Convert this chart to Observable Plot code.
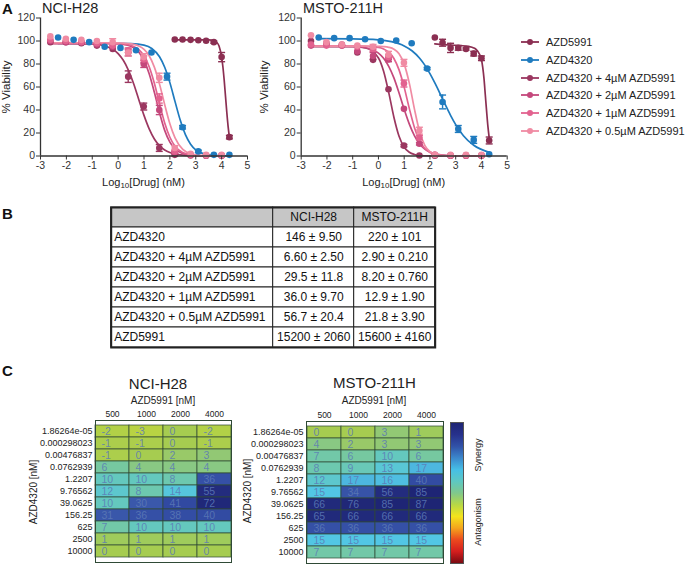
<!DOCTYPE html>
<html><head><meta charset="utf-8">
<script src="https://cdn.jsdelivr.net/npm/d3@7"></script>
<script src="https://cdn.jsdelivr.net/npm/@observablehq/plot@0.6"></script>
<style>
body{margin:0;background:#fff;}
#root{position:relative;width:685px;height:565px;overflow:hidden;font-family:"Liberation Sans",Arial,Helvetica,sans-serif;color:#222;}
.abs{position:absolute;line-height:1;white-space:nowrap;}
</style></head><body><div id="root"></div>
<script>
// ---------------- DATA ----------------
const seriesNames = ["AZD5991","AZD4320","AZD4320 + 4µM AZD5991","AZD4320 + 2µM AZD5991","AZD4320 + 1µM AZD5991","AZD4320 + 0.5µM AZD5991"];
const xTicks = [-3,-2,-1,0,1,2,3,4,5];
const yTicks = [0,20,40,60,80,100,120];

// log10 doses (nM)
const logDoseAZD5991 = [2.19, 2.49, 2.80, 3.10, 3.40, 3.70, 4.00, 4.30];
const logDoseAZD4320 = [-2.32, -1.72, -1.12, -0.52, 0.09, 0.69, 1.29, 1.89, 2.49, 3.10, 3.70, 4.30];
const logDoseCombo   = [-2.62, -2.02, -1.42, -0.82, -0.21, 0.39, 0.99, 1.59, 2.19, 2.80, 3.40, 4.00];

// NCI-H28 % viability (mean, sem)
const h28_AZD5991 = [101.3, 101.3, 101, 100.7, 100.2, 99, 86, 16.4];
const h28_AZD5991_sem = [0, 0, 0, 0, 0, 1, 4, 1.5];
const h28_AZD4320 = [103, 101, 99, 95, 94, 92, 90, 69, 25, 4, 1, 1];
const h28_AZD4320_sem = [0, 0, 0, 0, 0, 0, 0, 3, 1.5, 1, 0, 0];
const h28_combo4 = [99, 99, 98, 96, 93, 69, 43, 7, 1, 0.5, 0.3, 0.3];
const h28_combo4_sem = [0, 0, 0, 0, 0, 5, 3, 3, 1, 0, 0, 0];
const h28_combo2 = [100, 99, 99, 97, 95, 90, 80, 40, 3, 1, 0.5, 0.5];
const h28_combo2_sem = [0, 0, 0, 0, 0, 3, 3, 4, 1, 0, 0, 0];
const h28_combo1 = [101, 100, 99, 98, 96, 92, 84, 50, 4, 1, 0.5, 0.5];
const h28_combo1_sem = [0, 0, 0, 0, 0, 2, 3, 4, 1, 0, 0, 0];
const h28_combo05 = [104, 102, 101, 100, 99, 90, 86, 68, 7, 2, 1, 1];
const h28_combo05_sem = [0, 0, 0, 0, 3, 3, 3, 4, 2, 0, 0, 0];

// MSTO-211H % viability (mean, sem)
const msto_AZD5991 = [103, 98.5, 94, 94, 93, 89, 85, 13.5];
const msto_AZD5991_sem = [0, 3, 4, 2, 1, 2, 2, 3];
const msto_AZD4320 = [103, 102.5, 102.5, 101.5, 100, 100.5, 98, 76, 47, 23.5, 14, 1.5];
const msto_AZD4320_sem = [0, 0, 0, 0, 0, 0, 0, 1, 6, 3, 3, 0];
const msto_combo4 = [100, 98, 96, 90, 83.6, 58, 9, 0.5, 0.3, 0.3, 0.3, 0.3];
const msto_combo4_sem = [0, 0, 0, 0, 0, 0, 1, 0, 0, 0, 0, 0];
const msto_combo2 = [96, 97, 97, 91, 87, 84, 41, 10.6, 1, 0.5, 0.5, 0.5];
const msto_combo2_sem = [0, 0, 0, 0, 3, 2, 0, 1, 0, 0, 0, 0];
const msto_combo1 = [97, 96, 96, 95, 93, 86, 63, 16, 1, 0.5, 0.5, 0.5];
const msto_combo1_sem = [0, 0, 0, 0, 2, 2, 3, 2, 0, 0, 0, 0];
const msto_combo05 = [105, 99, 97, 96, 95, 88, 81, 22, 1, 1, 1, 1];
const msto_combo05_sem = [0, 0, 0, 0, 2, 3, 3, 3, 0, 0, 0, 0];

// fitted curves
const fitXAZD5991 = [2.19, 2.8, 3.2, 3.5, 3.7, 3.8, 3.9, 4.0, 4.05, 4.1, 4.15, 4.2, 4.25, 4.3];
const fitXAZD4320 = [-2.32, -1, 0, 0.5, 1.0, 1.3, 1.6, 1.8, 2.0, 2.2, 2.4, 2.6, 2.8, 3.0, 3.3, 3.7, 4.3];
const fitXCombo   = [-2.62, -1, -0.5, 0, 0.2, 0.4, 0.6, 0.8, 1.0, 1.2, 1.4, 1.6, 1.8, 2.0, 2.2, 2.5, 2.8, 3.2, 4.0];

const fit_h28_AZD5991 = [101, 101, 101, 100.9, 100.4, 99.2, 95.6, 86, 77.4, 65.7, 51.9, 38, 25.8, 16.5];
const fit_h28_AZD4320 = [98, 98, 97.9, 97.7, 96.4, 93.5, 86.3, 77.2, 63.8, 47.3, 31.2, 18.6, 10.3, 5.4, 2, 0.5, 0.1];
const fit_h28_combo4  = [98, 97.5, 95.7, 89, 83.2, 74.5, 62.8, 49, 35.3, 23.6, 14.8, 8.9, 5.2, 3.0, 1.7, 0.7, 0.3, 0.1, 0];
const fit_h28_combo2  = [98, 98, 97.9, 97.6, 97.1, 96.1, 94.1, 90.3, 83.2, 71.5, 55.4, 37.7, 22.3, 12.1, 6.2, 2.1, 0.7, 0.2, 0];
const fit_h28_combo1  = [98, 98, 98, 97.7, 97.4, 96.7, 95.2, 92.5, 87, 77.6, 63.2, 45.4, 28.7, 16.3, 8.5, 3, 1, 0.2, 0];
const fit_h28_combo05 = [98.5, 98.5, 98.5, 98.3, 98.2, 97.8, 97.1, 95.6, 92.7, 87.2, 77.3, 62.5, 44.7, 28.1, 15.8, 5.8, 2, 0.5, 0];

const fit_msto_AZD5991 = [97.5, 96.5, 96, 95.3, 94, 92.5, 89.5, 84, 77, 67, 53, 39, 26, 16];
const fit_msto_AZD4320 = [102, 101.8, 101, 99.4, 95.7, 91.5, 85, 79, 71.6, 63.1, 53.9, 44.4, 35.4, 27.3, 17.6, 9.3, 3.2];
const fit_msto_combo4  = [95, 95, 93.9, 85.2, 73.7, 55.1, 33.7, 17.1, 7.6, 3.2, 1.3, 0.5, 0.2, 0.1, 0, 0, 0, 0, 0];
const fit_msto_combo2  = [95.5, 95.2, 94.1, 89.4, 85, 78, 67.9, 54.8, 40.6, 27.7, 17.5, 10.5, 6, 3.4, 1.9, 0.8, 0.3, 0.1, 0];
const fit_msto_combo1  = [95.5, 95.5, 95.3, 94.4, 93.1, 90.3, 84.8, 74.9, 59.7, 41.2, 24.6, 13.1, 6.5, 3.1, 1.4, 0.45, 0.1, 0, 0];
const fit_msto_combo05 = [95.5, 95.5, 95.5, 95.3, 95.1, 94.5, 92.9, 88.9, 79.9, 63.2, 40.6, 21, 9.3, 3.7, 1.5, 0.35, 0.1, 0, 0];

// Table B: IC50 (nM)
const tableHeader = ["", "NCI-H28", "MSTO-211H"];
const tableRows = ["AZD4320","AZD4320 + 4µM AZD5991","AZD4320 + 2µM AZD5991","AZD4320 + 1µM AZD5991","AZD4320 + 0.5µM AZD5991","AZD5991"];
const ic50H28 = ["146 ± 9.50","6.60 ± 2.50","29.5 ± 11.8","36.0 ± 9.70","56.7 ± 20.4","15200 ± 2060"];
const ic50MSTO = ["220 ± 101","2.90 ± 0.210","8.20 ± 0.760","12.9 ± 1.90","21.8 ± 3.90","15600 ± 4160"];

// Panel C: synergy scores
const heatRowsAZD4320 = ["1.86264e-05","0.000298023","0.00476837","0.0762939","1.2207","9.76562","39.0625","156.25","625","2500","10000"];
const heatColsAZD5991 = ["500","1000","2000","4000"];
const synergyH28 = [
  [-2,-3,0,-2],[-1,-1,0,-1],[-1,0,2,3],[6,4,4,4],[10,10,8,36],[12,8,14,55],
  [10,30,41,72],[31,36,38,40],[7,10,10,10],[1,1,1,1],[0,0,0,0]];
const synergyMSTO = [
  [0,0,3,1],[4,2,3,3],[7,6,10,6],[8,9,13,17],[12,17,16,40],[15,34,56,85],
  [66,76,85,87],[65,66,66,66],[36,36,36,36],[15,15,15,15],[7,7,7,7]];

// ---------------- STYLE CONFIG ----------------
const seriesColors = ["#8b2f52","#1f7bbf","#9b3760","#c4487c","#e2628f","#f08ba3"];
const synergyStops  = [-100, -50, -30, -15, -5, 0, 3, 6, 10, 15, 22, 30, 42, 55, 100];
const synergyColors = ["#7b0a14","#e3221e","#f39a1c","#f6e41a","#c4d83a","#a6cc50","#92c874","#76c8a0","#64c8be","#52c6e4","#4090d2","#3a58ab","#3048a0","#232c7e","#1c2270"];
const colorbarColors = ["#1f2574","#27318c","#3152a8","#3c88cc","#46bfe6","#5ec8c2","#80c88c","#b6d846","#f4e41c","#f5a51c","#ec4a1e","#d41e1e","#7a0a12"];
const FONT = '"Liberation Sans", Arial, Helvetica, sans-serif';

// ---------------- HELPERS ----------------
const root = document.getElementById("root");
function place(el, left, top) {
  el.style.position = "absolute"; el.style.left = left + "px"; el.style.top = top + "px";
  el.style.overflow = "visible"; el.style.background = "transparent"; el.style.maxWidth = "none";
  root.appendChild(el);
}
function addText(html, x, y, {size = 11, bold = false, anchor = "middle", rotate = false, color = "#222"} = {}) {
  const d = document.createElement("div");
  d.className = "abs";
  d.style.left = x + "px"; d.style.top = y + "px"; d.style.fontSize = size + "px"; d.style.color = color;
  if (bold) d.style.fontWeight = "bold";
  const tx = anchor === "middle" ? "-50%" : anchor === "end" ? "-100%" : "0";
  d.style.transform = `translate(${tx},-50%)` + (rotate ? " rotate(-90deg)" : "");
  d.innerHTML = html;
  root.appendChild(d);
}
const capSymbol = {draw(ctx, size) { const r = Math.sqrt(size / Math.PI); ctx.moveTo(-r, 0); ctx.lineTo(r, 0); }};

function doseChart(series, {width, marginLeft, marginRight}) {
  const pts = [], fits = [];
  series.forEach(s => {
    s.dose.forEach((x, i) => pts.push({name: s.name, x, y: s.v[i], e: s.sem[i]}));
    s.fitX.forEach((x, i) => fits.push({name: s.name, x, y: s.fitY[i]}));
  });
  const bars = pts.filter(d => d.e > 0);
  return Plot.plot({
    width, height: 175, marginLeft, marginRight, marginTop: 17.5, marginBottom: 19.5,
    x: {domain: [xTicks[0], xTicks[xTicks.length - 1]]},
    y: {domain: [yTicks[0], yTicks[yTicks.length - 1]]},
    color: {domain: seriesNames, range: seriesColors},
    style: {fontFamily: FONT, fontSize: "10.5px", color: "#333", background: "transparent", overflow: "visible"},
    marks: [
      Plot.line(fits, {x: "x", y: "y", z: "name", stroke: "name", strokeWidth: 1.7, curve: "monotone-x"}),
      Plot.ruleX(bars, {x: "x", y1: d => d.y - d.e, y2: d => d.y + d.e, stroke: "name", strokeWidth: 1.4}),
      Plot.dot(bars, {x: "x", y: d => d.y + d.e, stroke: "name", fill: "none", symbol: capSymbol, r: 3.5, strokeWidth: 1.4}),
      Plot.dot(bars, {x: "x", y: d => d.y - d.e, stroke: "name", fill: "none", symbol: capSymbol, r: 3.5, strokeWidth: 1.4}),
      Plot.dot(pts, {x: "x", y: "y", fill: "name", r: 3.3}),
      Plot.axisX({ticks: xTicks, tickSize: 4, tickPadding: 2, tickFormat: d => String(d), label: null, fontSize: 10.5}),
      Plot.axisY({ticks: yTicks, tickSize: 4, tickPadding: 1.5, label: null, fontSize: 10.5}),
      Plot.ruleY([yTicks[0]], {stroke: "#333", strokeWidth: 1.3}),
      Plot.ruleX([xTicks[0]], {stroke: "#333", strokeWidth: 1.3})
    ]
  });
}

function heatmap(values, {width, height, marginLeft, marginRight, marginTop, marginBottom}) {
  const cells = [];
  heatRowsAZD4320.forEach((row, i) => heatColsAZD5991.forEach((col, j) => cells.push({row, col, v: values[i][j]})));
  return Plot.plot({
    width, height, marginLeft, marginRight, marginTop, marginBottom,
    x: {domain: heatColsAZD5991, padding: 0},
    y: {domain: heatRowsAZD4320, padding: 0},
    color: {type: "linear", domain: synergyStops, range: synergyColors},
    style: {fontFamily: FONT, fontSize: "9px", color: "#222", background: "transparent", overflow: "visible"},
    marks: [
      Plot.cell(cells, {x: "col", y: "row", fill: "v", stroke: "#2f4a36", strokeWidth: 0.9, strokeOpacity: 0.8, inset: 0}),
      Plot.text(cells, {x: "col", y: "row", text: d => String(d.v), textAnchor: "start", dx: -11, fill: "#5c7ab6", fillOpacity: 0.85, fontSize: 10.5}),
      Plot.axisX({anchor: "top", tickSize: 0, tickPadding: 4, fontSize: 8.5, label: null}),
      Plot.axisY({anchor: "left", tickSize: 0, tickPadding: 3, fontSize: 9, label: null}),
      Plot.frame({stroke: "#2f4a36", strokeWidth: 1})
    ]
  });
}

// ---------------- PANEL A ----------------
const h28Series = [
  {name: seriesNames[0], dose: logDoseAZD5991, v: h28_AZD5991, sem: h28_AZD5991_sem, fitX: fitXAZD5991, fitY: fit_h28_AZD5991},
  {name: seriesNames[1], dose: logDoseAZD4320, v: h28_AZD4320, sem: h28_AZD4320_sem, fitX: fitXAZD4320, fitY: fit_h28_AZD4320},
  {name: seriesNames[2], dose: logDoseCombo, v: h28_combo4, sem: h28_combo4_sem, fitX: fitXCombo, fitY: fit_h28_combo4},
  {name: seriesNames[3], dose: logDoseCombo, v: h28_combo2, sem: h28_combo2_sem, fitX: fitXCombo, fitY: fit_h28_combo2},
  {name: seriesNames[4], dose: logDoseCombo, v: h28_combo1, sem: h28_combo1_sem, fitX: fitXCombo, fitY: fit_h28_combo1},
  {name: seriesNames[5], dose: logDoseCombo, v: h28_combo05, sem: h28_combo05_sem, fitX: fitXCombo, fitY: fit_h28_combo05}
];
const mstoSeries = [
  {name: seriesNames[0], dose: logDoseAZD5991, v: msto_AZD5991, sem: msto_AZD5991_sem, fitX: fitXAZD5991, fitY: fit_msto_AZD5991},
  {name: seriesNames[1], dose: logDoseAZD4320, v: msto_AZD4320, sem: msto_AZD4320_sem, fitX: fitXAZD4320, fitY: fit_msto_AZD4320},
  {name: seriesNames[2], dose: logDoseCombo, v: msto_combo4, sem: msto_combo4_sem, fitX: fitXCombo, fitY: fit_msto_combo4},
  {name: seriesNames[3], dose: logDoseCombo, v: msto_combo2, sem: msto_combo2_sem, fitX: fitXCombo, fitY: fit_msto_combo2},
  {name: seriesNames[4], dose: logDoseCombo, v: msto_combo1, sem: msto_combo1_sem, fitX: fitXCombo, fitY: fit_msto_combo1},
  {name: seriesNames[5], dose: logDoseCombo, v: msto_combo05, sem: msto_combo05_sem, fitX: fitXCombo, fitY: fit_msto_combo05}
];
place(doseChart(h28Series, {width: 255, marginLeft: 40, marginRight: 8}), 0, 0);
place(doseChart(mstoSeries, {width: 260, marginLeft: 45.7, marginRight: 8.3}), 255, 0);

addText("A", 2, 7.5, {size: 15, bold: true, anchor: "start", color: "#111"});
addText("NCI-H28", 42, 7.5, {size: 14.5, anchor: "start"});
addText("MSTO-211H", 303, 7.5, {size: 14.5, anchor: "start"});
addText("% Viability", 7, 86.5, {size: 11.5, rotate: true});
addText("% Viability", 265, 86.5, {size: 11.5, rotate: true});
addText("Log<sub style='font-size:8px;vertical-align:-2px'>10</sub>[Drug] (nM)", 143.5, 183, {size: 11});
addText("Log<sub style='font-size:8px;vertical-align:-2px'>10</sub>[Drug] (nM)", 403.7, 183, {size: 11});

// legend
seriesNames.forEach((name, i) => {
  const cy = 41.7 + i * 17.9, c = seriesColors[i];
  const d = document.createElement("div");
  d.className = "abs";
  d.style.left = "521px"; d.style.top = (cy - 4) + "px";
  d.innerHTML = `<svg width="18" height="8" style="display:block"><line x1="0" y1="4" x2="18" y2="4" stroke="${c}" stroke-width="1.8"/><circle cx="9" cy="4" r="3" fill="${c}"/></svg>`;
  root.appendChild(d);
  addText(name, 546, cy, {size: 11, anchor: "start"});
});

// ---------------- PANEL B ----------------
const colEdges = [0, 2, 3, 4];
const tableData = [tableHeader, ...tableRows.map((r, i) => [r, ic50H28[i], ic50MSTO[i]])];
const tableCells = [];
tableData.forEach((row, r) => row.forEach((text, c) => tableCells.push({r, c, text, x1: colEdges[c], x2: colEdges[c + 1]})));
const table = Plot.plot({
  width: 345, height: 155, marginLeft: 10.7, marginRight: 10.3, marginTop: 7, marginBottom: 8,
  x: {domain: [0, 4], axis: null},
  y: {type: "band", domain: d3.range(tableData.length), padding: 0, axis: null},
  style: {fontFamily: FONT, fontSize: "12px", color: "#111", background: "transparent", overflow: "visible"},
  marks: [
    Plot.barX(tableCells, {x1: "x1", x2: "x2", y: "r", fill: d => d.r === 0 ? "#c6c6c6" : "#ffffff", stroke: "#222", strokeWidth: 1}),
    Plot.text(tableCells.filter(d => d.c === 0), {x: "x1", y: "r", text: "text", textAnchor: "start", dx: 3}),
    Plot.text(tableCells.filter(d => d.c > 0), {x: d => (d.x1 + d.x2) / 2, y: "r", text: "text"}),
    Plot.frame({stroke: "#222", strokeWidth: 2})
  ]
});
place(table, 100, 200);
addText("B", 2, 213, {size: 15, bold: true, anchor: "start", color: "#111"});

// ---------------- PANEL C ----------------
place(heatmap(synergyH28, {width: 240, height: 165, marginLeft: 95, marginRight: 9, marginTop: 20, marginBottom: 3}), 0, 400);
place(heatmap(synergyMSTO, {width: 240, height: 164, marginLeft: 96, marginRight: 7, marginTop: 20, marginBottom: 2}), 210, 401);
addText("C", 2, 370, {size: 15, bold: true, anchor: "start", color: "#111"});
addText("NCI-H28", 158, 383, {size: 15});
addText("MSTO-211H", 374.5, 382, {size: 15});
addText("AZD5991 [nM]", 163, 401, {size: 10});
addText("AZD5991 [nM]", 374, 401, {size: 10});
addText("AZD4320 [nM]", 34, 491.5, {size: 10, rotate: true});
addText("AZD4320 [nM]", 248, 490.5, {size: 10, rotate: true});

// colorbar
const bar = document.createElement("div");
bar.className = "abs";
Object.assign(bar.style, {left: "450px", top: "422px", width: "12px", height: "140px", border: "1px solid #555",
  background: `linear-gradient(to bottom, ${colorbarColors.map((c, i) => `${c} ${(i / (colorbarColors.length - 1) * 100).toFixed(1)}%`).join(", ")})`});
root.appendChild(bar);
addText("Synergy", 478, 455, {size: 9, rotate: true});
addText("Antagonism", 478, 522, {size: 9, rotate: true});
</script></body></html>
